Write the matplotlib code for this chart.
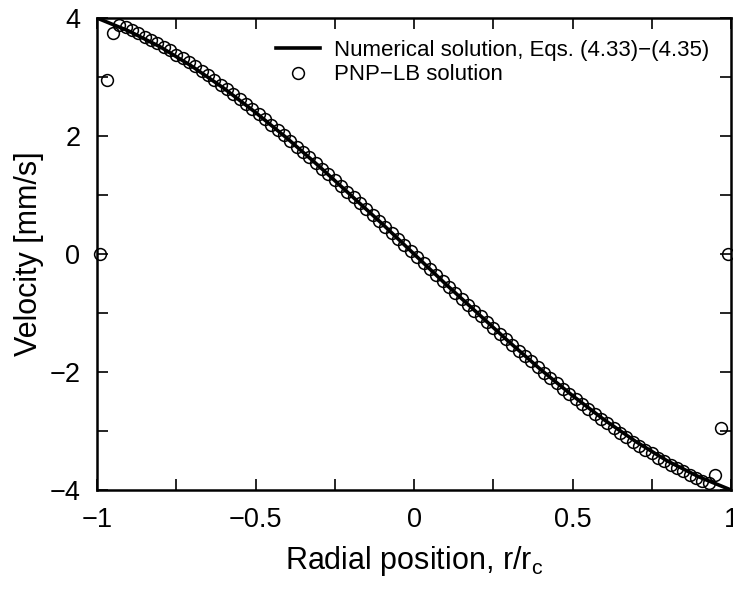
import matplotlib
matplotlib.use('Agg')
import matplotlib.pyplot as plt
import numpy as np

plt.rcParams['font.family'] = ['Liberation Sans', 'DejaVu Sans']

# numerical solution
r_line = [-1.0, -0.9, -0.8, -0.7, -0.6, -0.5, -0.4, -0.3, -0.2, -0.1, 0.0,
          0.1, 0.2, 0.3, 0.4, 0.5, 0.6, 0.7, 0.8, 0.9, 1.0]
v_line = [4.00, 3.78, 3.51, 3.18, 2.81, 2.40, 1.96, 1.49, 1.00, 0.51, 0.00,
          -0.51, -1.00, -1.49, -1.96, -2.40, -2.81, -3.18, -3.51, -3.78, -4.00]

# PNP-LB nodes
r_lb = [-0.99, -0.97, -0.95, -0.93, -0.91, -0.89, -0.87, -0.85, -0.83, -0.81,
        -0.79, -0.77, -0.75, -0.73, -0.71, -0.69, -0.67, -0.65, -0.63, -0.61,
        -0.59, -0.57, -0.55, -0.53, -0.51, -0.49, -0.47, -0.45, -0.43, -0.41,
        -0.39, -0.37, -0.35, -0.33, -0.31, -0.29, -0.27, -0.25, -0.23, -0.21,
        -0.19, -0.17, -0.15, -0.13, -0.11, -0.09, -0.07, -0.05, -0.03, -0.01,
        0.01, 0.03, 0.05, 0.07, 0.09, 0.11, 0.13, 0.15, 0.17, 0.19,
        0.21, 0.23, 0.25, 0.27, 0.29, 0.31, 0.33, 0.35, 0.37, 0.39,
        0.41, 0.43, 0.45, 0.47, 0.49, 0.51, 0.53, 0.55, 0.57, 0.59,
        0.61, 0.63, 0.65, 0.67, 0.69, 0.71, 0.73, 0.75, 0.77, 0.79,
        0.81, 0.83, 0.85, 0.87, 0.89, 0.91, 0.93, 0.95, 0.97, 0.99]
v_lb = [0.00, 2.95, 3.75, 3.88, 3.84, 3.79, 3.74, 3.68, 3.63, 3.57,
        3.51, 3.45, 3.38, 3.32, 3.25, 3.18, 3.11, 3.03, 2.95, 2.87,
        2.79, 2.71, 2.63, 2.54, 2.46, 2.37, 2.28, 2.19, 2.10, 2.01,
        1.92, 1.82, 1.73, 1.64, 1.54, 1.44, 1.35, 1.25, 1.15, 1.05,
        0.96, 0.86, 0.76, 0.66, 0.56, 0.46, 0.35, 0.25, 0.15, 0.05,
        -0.05, -0.15, -0.25, -0.35, -0.46, -0.56, -0.66, -0.76, -0.86, -0.96,
        -1.05, -1.15, -1.25, -1.35, -1.44, -1.54, -1.64, -1.73, -1.82, -1.92,
        -2.01, -2.10, -2.19, -2.28, -2.37, -2.46, -2.54, -2.63, -2.71, -2.79,
        -2.87, -2.95, -3.03, -3.11, -3.18, -3.25, -3.32, -3.38, -3.45, -3.51,
        -3.57, -3.63, -3.68, -3.74, -3.79, -3.84, -3.88, -3.75, -2.95, 0.00]

xticks = [-1, -0.75, -0.5, -0.25, 0, 0.25, 0.5, 0.75, 1]
xticklabels = ['\u22121', '', '\u22120.5', '', '0', '', '0.5', '', '1']
yticks = [-4, -3, -2, -1, 0, 1, 2, 3, 4]
yticklabels = ['\u22124', '', '\u22122', '', '0', '', '2', '', '4']

fig = plt.figure(figsize=(7.33, 5.90), dpi=100)
ax = fig.add_axes([97/733, 1 - 490/590, (731 - 97)/733, (490 - 18)/590])

ax.plot(r_line, v_line, color='black', lw=2.6,
        label='Numerical solution, Eqs. (4.33)\u2212(4.35)', zorder=2)
ax.plot(r_lb, v_lb, ls='none', marker='o', ms=8.5, mfc='none', mec='black',
        mew=1.1, label='PNP\u2212LB solution', zorder=3, clip_on=False)

ax.set_xlim(-1, 1)
ax.set_ylim(-4, 4)
ax.set_xticks(xticks)
ax.set_xticklabels(xticklabels)
ax.set_yticks(yticks)
ax.set_yticklabels(yticklabels)
ax.tick_params(direction='in', length=8, width=1.2, top=True, right=True,
               labelsize=19.5)
ax.tick_params(axis='x', pad=12)
ax.tick_params(axis='y', pad=12)
for s in ax.spines.values():
    s.set_linewidth(1.8)

ax.set_xlabel('Radial position, r/r$_\\mathregular{c}$', fontsize=22, labelpad=8)
ax.set_ylabel('Velocity [mm/s]', fontsize=22, labelpad=4)

ax.legend(loc='upper left', bbox_to_anchor=(276/733, 1 - 40/590),
          bbox_transform=fig.transFigure, frameon=False, fontsize=16,
          handlelength=2.0, handletextpad=0.6, labelspacing=0.15,
          borderaxespad=0, borderpad=0)

fig.savefig('out.png', dpi=100)
